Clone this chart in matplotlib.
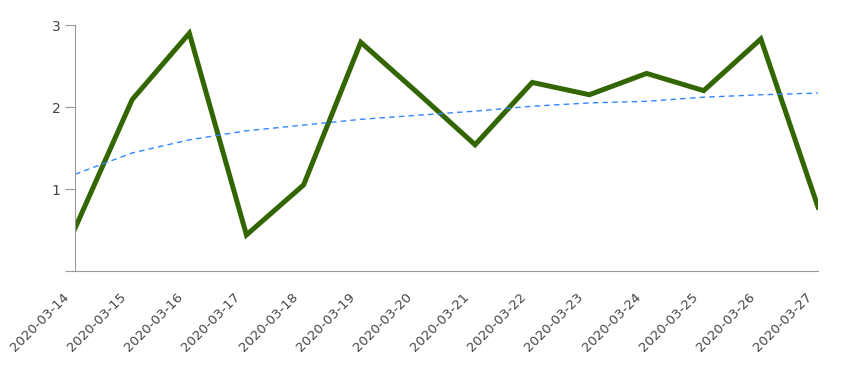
import matplotlib.pyplot as plt
import matplotlib.transforms as mtransforms
import numpy as np

dates = ['2020-03-14', '2020-03-15', '2020-03-16', '2020-03-17', '2020-03-18',
         '2020-03-19', '2020-03-20', '2020-03-21', '2020-03-22', '2020-03-23',
         '2020-03-24', '2020-03-25', '2020-03-26', '2020-03-27']
values = [0.52, 2.09, 2.90, 0.44, 1.05, 2.79, 2.17, 1.54, 2.30, 2.15, 2.41, 2.20, 2.83, 0.78]
trend = [1.18, 1.44, 1.60, 1.71, 1.78, 1.85, 1.90, 1.95, 2.01, 2.05, 2.07, 2.12, 2.15, 2.17]

fig = plt.figure(figsize=(8.67, 3.71), dpi=100)
ax = fig.add_axes([0.0865, 0.2695, 0.857, 0.663])

x = np.arange(len(dates))
ax.plot(x, values, color='#336600', lw=3.6, solid_joinstyle='miter')
ax.plot(x, trend, color='#3388ff', lw=1, linestyle=(0, (4, 3)))

ax.set_xlim(0, len(dates) - 1)
ax.set_ylim(0, 3)
ax.set_yticks([0, 1, 2, 3])
ax.set_yticklabels(['', '1', '2', '3'])
ax.set_xticks(x)
ax.set_xticklabels(dates, rotation=45, ha='right', va='center', rotation_mode='anchor')

for side in ['top', 'right']:
    ax.spines[side].set_visible(False)
for side in ['left', 'bottom']:
    ax.spines[side].set_color('#999999')
ax.tick_params(axis='y', colors='#999999', labelcolor='#444444', length=7, labelsize=10)
ax.tick_params(axis='x', length=0, labelcolor='#444444', labelsize=9.5, pad=17)
for spine in ax.spines.values():
    spine.set_clip_on(False)

# shift the rotated date labels a little to the left
offset = mtransforms.ScaledTranslation(-8 / 100, 0, fig.dpi_scale_trans)
for lbl in ax.get_xticklabels():
    lbl.set_transform(lbl.get_transform() + offset)

fig.savefig('out.png')
